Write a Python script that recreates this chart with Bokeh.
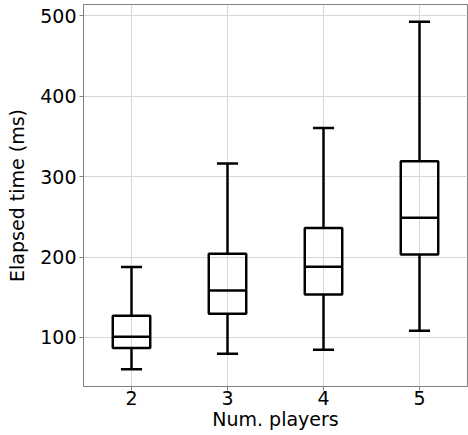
from bokeh.plotting import figure
from bokeh.models import Range1d, FixedTicker, ColumnDataSource
from bokeh.embed import file_html
from bokeh.resources import INLINE

players = [2, 3, 4, 5]
whisker_low = [60.6, 79.7, 84.7, 108.3]
q1 = [86.8, 129.4, 153.4, 203.3]
median = [101.0, 158.4, 187.9, 249.0]
q3 = [127.0, 204.1, 236.1, 319.0]
whisker_high = [187.7, 316.2, 360.6, 492.5]
y_ticks = [100, 200, 300, 400, 500]

box_w = 0.39
cap_w = 0.22

src = ColumnDataSource(dict(
    x=players,
    lo=whisker_low, q1=q1, med=median, q3=q3, hi=whisker_high,
    bl=[x - box_w / 2 for x in players], br=[x + box_w / 2 for x in players],
    cl=[x - cap_w / 2 for x in players], cr=[x + cap_w / 2 for x in players],
))

p = figure(width=468, height=435, output_backend="svg", toolbar_location=None,
           x_range=Range1d(1.5, 5.5), y_range=Range1d(39.0, 514.1),
           min_border_left=83, min_border_right=1, min_border_top=4, min_border_bottom=49)

p.background_fill_color = "white"
p.border_fill_color = "white"
p.outline_line_color = "#808080"
p.outline_line_width = 1

for ax in (p.xaxis, p.yaxis):
    ax.axis_line_color = "#808080"
    ax.major_tick_line_color = "#808080"
    ax.major_tick_in = 0
    ax.major_tick_out = 4
    ax.minor_tick_line_color = None
    ax.major_label_text_font = "DejaVu Sans"
    ax.major_label_text_font_size = "19px"
    ax.major_label_text_color = "black"
    ax.axis_label_text_font = "DejaVu Sans"
    ax.axis_label_text_font_size = "19px"
    ax.axis_label_text_font_style = "normal"
    ax.axis_label_text_color = "black"

p.xaxis.ticker = FixedTicker(ticks=players)
p.yaxis.ticker = FixedTicker(ticks=y_ticks)
p.xaxis.axis_label = "Num. players"
p.yaxis.axis_label = "Elapsed time (ms)"
p.xaxis.major_label_standoff = 0
p.yaxis.major_label_standoff = 3
p.xaxis.axis_label_standoff = 0
p.yaxis.axis_label_standoff = 9

p.grid.grid_line_color = "#d6d6d6"
p.grid.grid_line_width = 1

lw = 2.5
# whiskers
p.segment(x0="x", y0="q3", x1="x", y1="hi", source=src, line_color="black", line_width=lw)
p.segment(x0="x", y0="lo", x1="x", y1="q1", source=src, line_color="black", line_width=lw)
# caps
p.segment(x0="cl", y0="hi", x1="cr", y1="hi", source=src, line_color="black", line_width=lw)
p.segment(x0="cl", y0="lo", x1="cr", y1="lo", source=src, line_color="black", line_width=lw)
# boxes
p.quad(left="bl", right="br", bottom="q1", top="q3", source=src,
       fill_color=None, line_color="black", line_width=lw)
# medians
p.segment(x0="bl", y0="med", x1="br", y1="med", source=src, line_color="black", line_width=lw)

open("out.html", "w").write(file_html(p, INLINE))
